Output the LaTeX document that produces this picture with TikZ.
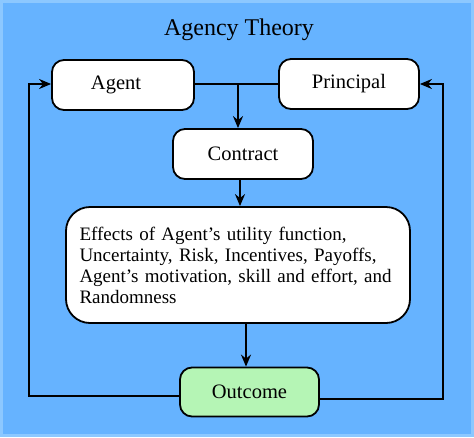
\documentclass[tikz,border=0pt]{standalone}
\usepackage{fontspec}
\setmainfont{Liberation Serif}
\usetikzlibrary{arrows.meta, positioning}

\definecolor{bgblue}{HTML}{66B3FF}
\definecolor{edgeblue}{HTML}{8CC8FF}
\definecolor{outgreen}{HTML}{B5F5B5}

\begin{document}
\begin{tikzpicture}[
        x=1pt, y=-1pt,
        box/.style={rectangle, rounded corners=12pt, draw=black, line width=1.8pt, fill=white, minimum height=50pt, align=center, font=\fontsize{20.5}{24}\selectfont},
        bigbox/.style={box, minimum width=344pt, minimum height=116pt, align=left, text width=317pt, inner xsep=13.5pt, font=\fontsize{19}{21}\selectfont, rounded corners=24pt},
        arrow/.style={-{Stealth[length=12pt, width=10pt]}, line width=1.8pt},
        ]

        % background
        \fill[edgeblue] (0,0) rectangle (474,437);
        \fill[bgblue] (3,3) rectangle (471,434);
        \useasboundingbox (0,0) rectangle (474,437);

        % title
        \node[font=\fontsize{24}{28}\selectfont] (title) at (239,30) {Agency Theory};

        % top row
        \node[box, minimum width=142pt] (agent) at (123,85) {Agent\hspace{14pt}};
        \node[box, minimum width=140pt] (principal) at (349,84) {Principal};

        % middle
        \node[box, minimum width=140pt] (contract) at (243,154) {Contract};
        \node[bigbox] (effects) at (238,265) {Effects of Agent’s utility function,\\Uncertainty, Risk, Incentives, Payoffs,\\Agent’s motivation, skill and effort, and\\Randomness};

        % bottom
        \node[box, minimum width=139pt, minimum height=49pt, fill=outgreen] (outcome) at (249.5,392) {Outcome};

        % helper coordinates
        \coordinate (join) at (238,84);
        \coordinate (midA) at (240,0);
        \coordinate (midB) at (246,0);
        \coordinate (lside) at (29,0);
        \coordinate (rside) at (443,0);

        % arrows
        \draw[line width=1.8pt] (agent.east |- join) -- (principal.west |- join);
        \draw[arrow] (join) -- (join |- contract.north);
        \draw[arrow] (midA |- contract.south) -- (midA |- effects.north);
        \draw[arrow] (midB |- effects.south) -- (midB |- outcome.north);

        % feedback loops
        \draw[arrow] (outcome.west) ++(0,4) -| (lside |- join) -- (agent.west |- join);
        \draw[arrow] (outcome.east) ++(0,7) -| (rside |- join) -- (principal.east |- join);

    \end{tikzpicture}
\end{document}
